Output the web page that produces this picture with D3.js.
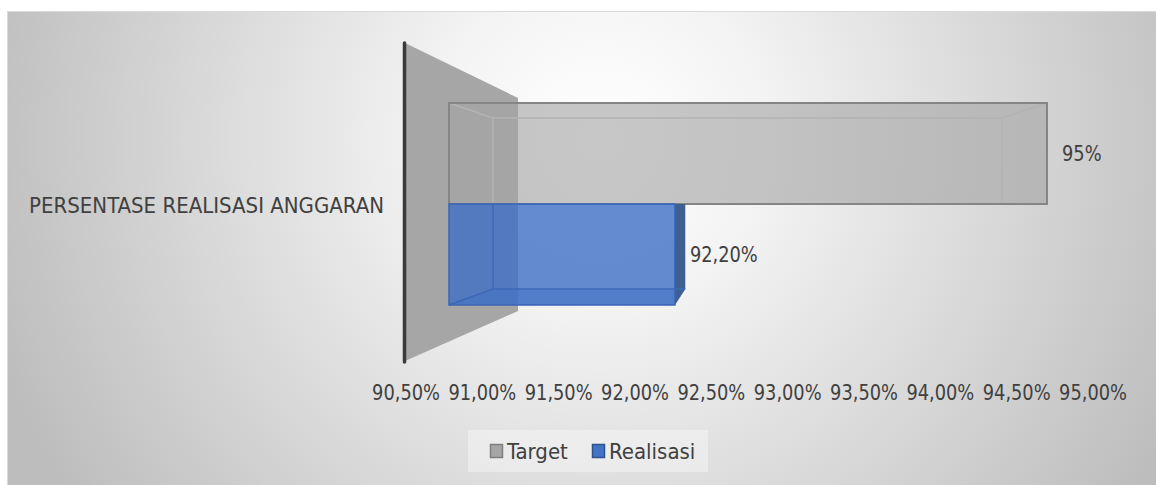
<!DOCTYPE html>
<html>
<head>
<meta charset="utf-8">
<script src="https://cdn.jsdelivr.net/npm/d3@7"></script>
<style>
  html, body { margin: 0; padding: 0; background: #fff; }
  svg { display: block; font-family: "Liberation Sans Narrow", "DejaVu Sans Condensed", sans-serif; }
  .lbl { fill: #404040; font-size: 22px; }
</style>
</head>
<body>
<svg id="chart" width="1156" height="485"></svg>
<script>
var category = "PERSENTASE REALISASI ANGGARAN";
var series = ["Target", "Realisasi"];
var values = [95, 92.2];
var valueLabels = ["95%", "92,20%"];
var ticks = [90.5, 91, 91.5, 92, 92.5, 93, 93.5, 94, 94.5, 95];
var seriesColors = ["#a5a5a5", "#4472c4"];

var svg = d3.select("#chart");
var defs = svg.append("defs");

var grad = defs.append("radialGradient")
  .attr("id", "bg")
  .attr("gradientUnits", "userSpaceOnUse")
  .attr("cx", 600).attr("cy", 140).attr("r", 640);
grad.append("stop").attr("offset", "0").attr("stop-color", "#ffffff");
grad.append("stop").attr("offset", "0.25").attr("stop-color", "#f4f4f4");
grad.append("stop").attr("offset", "1").attr("stop-color", "#bdbdbd");

// chart area
svg.append("rect")
  .attr("x", 7.5).attr("y", 11.5)
  .attr("width", 1160).attr("height", 480)
  .attr("fill", "url(#bg)")
  .attr("stroke", "#d9d9d9");

// front / back planes of the 3d bars
var xFront = d3.scaleLinear().domain([90.5, 95]).range([449, 1047]);
var xBack = d3.scaleLinear().domain([90.5, 95]).range([493, 1002]);
var xAxis = d3.scaleLinear().domain([90.5, 95]).range([406, 1093]);
var yFront = d3.scaleBand().domain(series).range([103, 305]);
var yBack = d3.scaleBand().domain(series).range([118, 289]);

// side wall
svg.append("polygon")
  .attr("points", [[405, 43], [518, 98], [518, 311], [405, 361]].join(" "))
  .attr("fill", "#a6a6a6");
svg.append("line")
  .attr("x1", 404.5).attr("x2", 404.5)
  .attr("y1", 43).attr("y2", 362)
  .attr("stroke", "#3a3a3a")
  .attr("stroke-width", 3.5)
  .attr("stroke-linecap", "round");

var base = 90.5;

// Target bar (top)
var t = series[0], tv = values[0];
var tg = svg.append("g");
tg.append("rect")
  .attr("x", xFront(base)).attr("y", yFront(t))
  .attr("width", xFront(tv) - xFront(base))
  .attr("height", yFront.bandwidth())
  .attr("fill", seriesColors[0])
  .attr("fill-opacity", 0.62);
tg.append("path")
  .attr("d", "M" + xFront(base) + "," + yFront(t) + "L" + xBack(base) + "," + yBack(t) +
    "L" + xBack(tv) + "," + yBack(t) + "L" + xFront(tv) + "," + yFront(t) +
    "M" + xBack(base) + "," + yBack(t) + "V" + (yFront(t) + yFront.bandwidth()) +
    "M" + xBack(tv) + "," + yBack(t) + "V" + (yFront(t) + yFront.bandwidth()))
  .attr("fill", "none")
  .attr("stroke", "#b3b3b3")
  .attr("stroke-width", 1.5);
tg.append("rect")
  .attr("x", xFront(base)).attr("y", yFront(t))
  .attr("width", xFront(tv) - xFront(base))
  .attr("height", yFront.bandwidth())
  .attr("fill", "none")
  .attr("stroke", "#858585")
  .attr("stroke-width", 2);

// Realisasi bar (bottom)
var r = series[1], rv = values[1];
var rBot = yFront(r) + yFront.bandwidth();
var rBackBot = yBack(r) + yBack.bandwidth();
var rg = svg.append("g");
rg.append("polygon")
  .attr("points", [[xFront(base), rBot], [xBack(base), rBackBot], [xBack(rv), rBackBot], [xFront(rv), rBot]].join(" "))
  .attr("fill", seriesColors[1])
  .attr("fill-opacity", 0.5);
rg.append("rect")
  .attr("x", xFront(base)).attr("y", yFront(r))
  .attr("width", xFront(rv) - xFront(base))
  .attr("height", yFront.bandwidth())
  .attr("fill", "#3f6fc4")
  .attr("fill-opacity", 0.8);
rg.append("polygon")
  .attr("points", [[xFront(rv), yFront(r)], [xBack(rv), yFront(r)], [xBack(rv), rBackBot], [xFront(rv), rBot]].join(" "))
  .attr("fill", "#3f5f93");
rg.append("path")
  .attr("d", "M" + xBack(base) + "," + yFront(r) + "V" + rBackBot + "H" + xBack(rv) +
    "M" + xFront(base) + "," + rBot + "L" + xBack(base) + "," + rBackBot)
  .attr("fill", "none")
  .attr("stroke", "#3d68b5")
  .attr("stroke-width", 1.5);
rg.append("rect")
  .attr("x", xFront(base)).attr("y", yFront(r))
  .attr("width", xFront(rv) - xFront(base))
  .attr("height", yFront.bandwidth())
  .attr("fill", "none")
  .attr("stroke", "#3a66b8")
  .attr("stroke-width", 1.5);

// numbers are set a little narrower, like the condensed font of the original
var squeeze = 0.9;

// data labels
svg.selectAll("text.val")
  .data(values)
  .enter()
  .append("text")
  .attr("class", "lbl val")
  .text(function(d, i) { return valueLabels[i]; })
  .attr("dy", "0.35em")
  .attr("transform", function(d, i) {
    return "translate(" + (xFront(d) + 15) + "," + (yFront(series[i]) + yFront.bandwidth() / 2) + ") scale(" + squeeze + ",1)";
  });

// category label
svg.append("text")
  .attr("class", "lbl")
  .attr("x", 384)
  .attr("y", 205)
  .attr("dy", "0.35em")
  .attr("text-anchor", "end")
  .text(category);

// value axis labels
svg.selectAll("text.tick")
  .data(ticks)
  .enter()
  .append("text")
  .attr("class", "lbl tick")
  .attr("dy", "0.35em")
  .attr("text-anchor", "middle")
  .attr("transform", function(d) { return "translate(" + xAxis(d) + ",392) scale(" + squeeze + ",1)"; })
  .text(function(d) { return d3.format(".2f")(d).replace(".", ",") + "%"; });

// legend
var legend = svg.append("g");
legend.append("rect")
  .attr("x", 468).attr("y", 430)
  .attr("width", 240).attr("height", 42)
  .attr("fill", "#ffffff").attr("fill-opacity", 0.35);
var legendX = [490, 592];
series.forEach(function(s, i) {
  legend.append("rect")
    .attr("x", legendX[i] + 0.5).attr("y", 444.5)
    .attr("width", 12).attr("height", 13)
    .attr("fill", seriesColors[i])
    .attr("stroke", i ? "#2f528f" : "#7f7f7f")
    .attr("stroke-width", 1.5);
  legend.append("text")
    .attr("class", "lbl")
    .attr("x", legendX[i] + 17)
    .attr("y", 451)
    .attr("dy", "0.35em")
    .text(s);
});
</script>
</body>
</html>
